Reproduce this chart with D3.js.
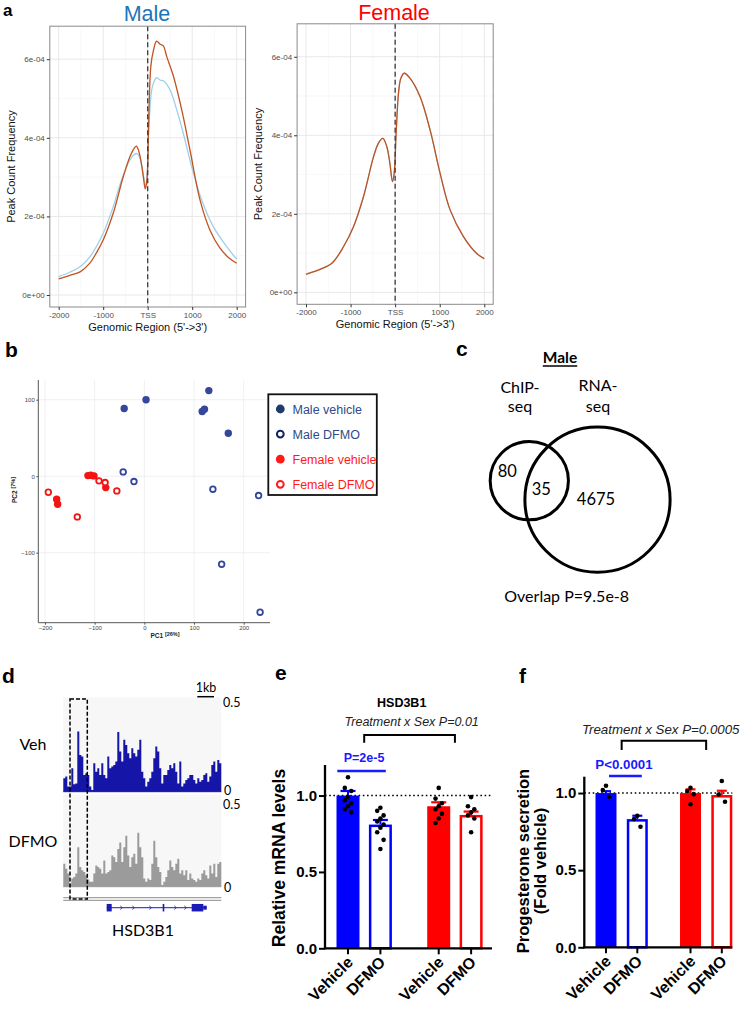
<!DOCTYPE html>
<html><head><meta charset="utf-8">
<script src="https://cdn.jsdelivr.net/npm/d3@7"></script>
<style>body{margin:0;background:#fff}svg{display:block}</style>
</head><body>
<svg id="fig" width="749" height="1013"></svg>
<script>
// ================= DATA =================
// Panel a: peak profiles around TSS, [position (bp), frequency x1e-4]
const profileTicksX = [-2000, -1000, 0, 1000, 2000];
const profileTickLabelsX = ["-2000", "-1000", "TSS", "1000", "2000"];
const profileTicksY = [0, 2, 4, 6];
const profileTickLabelsY = ["0e+00", "2e-04", "4e-04", "6e-04"];
const maleOrange = [[-2000,0.41],[-1750,0.50],[-1520,0.59],[-1300,0.81],[-1150,1.08],[-1000,1.40],[-775,2.08],[-550,3.01],[-400,3.52],[-300,3.74],[-255,3.79],[-200,3.66],[-150,3.40],[-100,3.02],[-55,2.70],[-25,2.85],[0,3.30],[20,4.30],[70,5.81],[130,6.23],[200,6.46],[280,6.38],[350,6.34],[430,6.06],[580,5.56],[765,4.71],[950,3.69],[1175,2.42],[1400,1.65],[1625,1.19],[1800,0.97],[2000,0.81]];
const maleBlue = [[-2000,0.47],[-1750,0.58],[-1520,0.72],[-1300,0.97],[-1000,1.57],[-775,2.25],[-550,3.05],[-350,3.52],[-240,3.60],[-180,3.50],[-128,3.26],[-80,2.95],[-40,2.76],[-10,3.05],[22,4.11],[90,5.22],[150,5.45],[202,5.53],[280,5.47],[352,5.45],[502,5.22],[652,4.71],[801,4.11],[989,3.26],[1213,2.42],[1475,1.74],[1775,1.23],[2000,0.91]];
const femaleOrange = [[-2000,0.46],[-1700,0.58],[-1420,0.74],[-1160,1.16],[-935,1.67],[-710,2.44],[-486,3.45],[-374,3.80],[-276,3.92],[-187,3.71],[-120,3.30],[-60,2.82],[-22,3.03],[22,4.05],[75,5.07],[127,5.45],[202,5.58],[336,5.45],[560,4.98],[785,4.13],[1009,3.03],[1233,2.10],[1532,1.42],[1830,0.99],[2000,0.86]];
const femaleBlue = [[-2000,0.47],[-1700,0.58],[-1420,0.74],[-1160,1.16],[-935,1.67],[-710,2.44],[-486,3.45],[-374,3.80],[-276,3.92],[-187,3.71],[-120,3.30],[-60,2.82],[-22,3.03],[22,4.05],[75,5.07],[127,5.45],[202,5.58],[336,5.45],[560,4.98],[785,4.13],[1009,3.03],[1233,2.10],[1532,1.42],[1830,0.99],[2000,0.86]];

// Panel b: PCA scores [PC1, PC2]
const pcaTicksX = [-200, -100, 0, 100, 200];
const pcaTicksY = [-100, 0, 100];
const maleVehiclePC = [[-40.6,88.4],[3.4,100],[129.8,111.9],[116.4,84.5],[121,87.5],[169,56.2]];
const maleDFMOPC = [[-42.6,5.6],[-20.9,-7],[138,-17],[230,-25.3],[155.6,-115],[233,-177.8]];
const femaleVehiclePC = [[-113.6,0.8],[-108,1.2],[-101.4,0.4],[-77.7,-14.9],[-176.5,-30],[-174.5,-36.6]];
const femaleDFMOPC = [[-193.3,-21],[-135,-53.2],[-91.3,-6.1],[-79,-8.3],[-55.4,-19.2]];
const pcaLegend = ["Male vehicle", "Male DFMO", "Female vehicle", "Female DFMO"];

// Panel c: Venn counts
const vennCounts = [80, 35, 4675]; // ChIP-only, overlap, RNA-only

// Panel d: coverage tracks (bins left->right), signal 0..0.5
const trackMax = 0.5;
const vehTrack = [0.071,0.080,0.027,0.027,0.124,0.039,0.044,0.319,0.195,0.186,0.089,0.098,0.089,0.027,0.009,0.151,0.106,0.124,0.089,0.151,0.089,0.071,0.186,0.124,0.133,0.142,0.160,0.316,0.213,0.160,0.275,0.248,0.204,0.177,0.230,0.204,0.186,0.222,0.275,0.106,0.071,0.027,0.053,0.071,0.106,0.177,0.239,0.213,0.124,0.044,0.089,0.089,0.115,0.142,0.124,0.151,0.106,0.044,0.160,0.027,0.044,0.062,0.071,0.089,0.089,0.062,0.044,0.071,0.053,0.062,0.089,0.098,0.053,0.080,0.142,0.160,0.106,0.168,0.151];
const dfmoTrack = [0.129,0.101,0.074,0.018,0.046,0.055,0.074,0.221,0.110,0.092,0.083,0.064,0.040,0.028,0.028,0.074,0.119,0.110,0.101,0.074,0.147,0.074,0.083,0.092,0.175,0.165,0.138,0.211,0.248,0.138,0.221,0.285,0.175,0.110,0.165,0.184,0.129,0.303,0.221,0.165,0.046,0.028,0.046,0.037,0.129,0.257,0.165,0.110,0.083,0.009,0.028,0.055,0.092,0.147,0.110,0.092,0.129,0.156,0.074,0.092,0.064,0.092,0.037,0.074,0.046,0.037,0.028,0.046,0.037,0.074,0.092,0.064,0.046,0.119,0.074,0.129,0.055,0.129,0.138];
// gene model in bin units: [start, end, type]
const geneSpan = [21.7, 71.7];
const geneExons = [[21.7,24.2,"cds"],[49.7,50.5,"cds"],[64.2,70.0,"cds"],[70.0,71.7,"utr"]];

// Panels e & f: bar data
const barSex = ["Male", "Male", "Female", "Female"];
const barTreat = ["Vehicle", "DFMO", "Vehicle", "DFMO"];
const barTicksY = [0, 0.5, 1.0];
const mrnaMean = [1.00, 0.81, 0.93, 0.873];
const mrnaSem = [0.03, 0.03, 0.026, 0.022];
const mrnaPoints = [[1.12,1.05,1.03,0.99,0.97,0.95,0.93,0.91,0.89],[0.92,0.90,0.87,0.85,0.83,0.81,0.79,0.76,0.71,0.65],[1.05,0.98,0.95,0.93,0.91,0.88,0.85,0.82],[0.99,0.93,0.91,0.89,0.87,0.85,0.76]];
const progMean = [1.00, 0.831, 1.00, 0.987];
const progSem = [0.012, 0.022, 0.024, 0.028];
const progPoints = [[1.047,1.019,0.976],[0.853,0.831,0.782],[1.034,1.013,0.993,0.927],[1.078,0.991,0.944]];

// ================= DRAWING =================
const svg = d3.select('#fig');
const SANS = "'Liberation Sans', Arial, Helvetica, sans-serif";
const CAL = "Lato, 'Open Sans', 'DejaVu Sans', sans-serif";

function txt(x, y, s, o = {}) {
  const t = svg.append('text').attr('x', x).attr('y', y).text(s)
    .attr('font-family', o.ff || SANS).attr('font-size', o.fs || 12).attr('fill', o.fill || '#000');
  if (o.fw) t.attr('font-weight', o.fw);
  if (o.anchor) t.attr('text-anchor', o.anchor);
  if (o.style) t.attr('font-style', o.style);
  if (o.rot !== undefined) t.attr('transform', `rotate(${o.rot},${x},${y})`);
  return t;
}

// panel letters
[['a',3,15.5,17],['b',5,357,21],['c',456,356,21],['d',2,683,21],['e',275,680,21],['f',519,683,21]].forEach(([l,x,y,fs]) =>
  txt(x, y, l, {fs: fs, fw: 'bold'}));

// ---------- Panel a ----------
const ORANGE = '#c2521f', LBLUE = '#9fd0e8';
function drawProfile(o) {
  const g = svg.append('g');
  const x = d3.scaleLinear().domain([-2200, 2200]).range([o.l, o.r]);
  const y = d3.scaleLinear().domain([-0.305, 6.84]).range([o.b, o.t]);
  g.append('rect').attr('x', o.l).attr('y', o.t).attr('width', o.r - o.l).attr('height', o.b - o.t).attr('fill', '#fff');
  const minorX = [-1500, -500, 500, 1500], minorY = [1, 3, 5];
  g.selectAll('.mnx').data(minorX).join('line').attr('x1', x).attr('x2', x).attr('y1', o.t).attr('y2', o.b)
    .attr('stroke', '#f3f3f3').attr('stroke-width', 0.6);
  g.selectAll('.mny').data(minorY).join('line').attr('y1', y).attr('y2', y).attr('x1', o.l).attr('x2', o.r)
    .attr('stroke', '#f3f3f3').attr('stroke-width', 0.6);
  g.selectAll('.mjx').data(profileTicksX).join('line').attr('x1', x).attr('x2', x).attr('y1', o.t).attr('y2', o.b)
    .attr('stroke', '#e8e8e8').attr('stroke-width', 1);
  g.selectAll('.mjy').data(profileTicksY).join('line').attr('y1', y).attr('y2', y).attr('x1', o.l).attr('x2', o.r)
    .attr('stroke', '#e8e8e8').attr('stroke-width', 1);
  const line = d3.line().x(d => x(d[0])).y(d => y(d[1])).curve(d3.curveCatmullRom.alpha(0.5));
  o.series.forEach(s => g.append('path').datum(s.data).attr('d', line).attr('fill', 'none')
    .attr('stroke', s.color).attr('stroke-width', 1.3));
  g.append('line').attr('x1', x(0)).attr('x2', x(0)).attr('y1', o.t).attr('y2', o.b)
    .attr('stroke', '#3a3a3a').attr('stroke-width', 1.3).attr('stroke-dasharray', '5,3');
  g.append('rect').attr('x', o.l).attr('y', o.t).attr('width', o.r - o.l).attr('height', o.b - o.t)
    .attr('fill', 'none').attr('stroke', '#8a8a8a').attr('stroke-width', 1);
  const styleAxis = s => { s.select('.domain').remove(); s.selectAll('line').attr('stroke', '#333');
    s.selectAll('text').attr('fill', '#4d4d4d').attr('font-size', 8).attr('font-family', SANS); };
  g.append('g').attr('transform', `translate(0,${o.b})`)
    .call(d3.axisBottom(x).tickValues(profileTicksX).tickFormat((d, i) => profileTickLabelsX[i]).tickSize(3).tickPadding(2))
    .call(styleAxis);
  g.append('g').attr('transform', `translate(${o.l},0)`)
    .call(d3.axisLeft(y).tickValues(profileTicksY).tickFormat((d, i) => profileTickLabelsY[i]).tickSize(3).tickPadding(2))
    .call(styleAxis);
  txt(o.ytX, (o.t + o.b) / 2, 'Peak Count Frequency', {fs: 11, anchor: 'middle', rot: -90, fill: '#111'});
  txt((o.l + o.r) / 2, o.xtY, "Genomic Region (5'->3')", {fs: 11, anchor: 'middle', fill: '#111'});
  txt(o.titleX, o.titleY, o.title, {fs: 21.5, anchor: 'middle', fill: o.titleColor});
}
drawProfile({l: 49.8, r: 245.6, t: 26.2, b: 307, ytX: 15, xtY: 330.5, title: 'Male', titleX: 147, titleY: 21, titleColor: '#1b75bb',
  series: [{data: maleBlue, color: LBLUE}, {data: maleOrange, color: ORANGE}]});
drawProfile({l: 297.1, r: 493.2, t: 23.8, b: 304.3, ytX: 262, xtY: 328, title: 'Female', titleX: 394, titleY: 20, titleColor: '#ff0000',
  series: [{data: femaleBlue, color: LBLUE}, {data: femaleOrange, color: ORANGE}]});

// ---------- Panel b ----------
(function () {
  const L = 38.3, R = 270, T = 380, B = 622.7;
  const x = d3.scaleLinear().domain([-200, 200]).range([45, 243.7]);
  const y = d3.scaleLinear().domain([-100, 100]).range([552.7, 399.7]);
  const g = svg.append('g');
  g.selectAll('.gx').data(pcaTicksX).join('line').attr('x1', x).attr('x2', x).attr('y1', T).attr('y2', B)
    .attr('stroke', '#ececec').attr('stroke-width', 0.8);
  g.selectAll('.gy').data(pcaTicksY).join('line').attr('y1', y).attr('y2', y).attr('x1', L).attr('x2', R)
    .attr('stroke', '#ececec').attr('stroke-width', 0.8);
  const styleAxis = s => { s.select('.domain').remove(); s.selectAll('line').attr('stroke', '#555');
    s.selectAll('text').attr('fill', '#444').attr('font-size', 6).attr('font-family', SANS); };
  g.append('g').attr('transform', `translate(0,${B})`).call(d3.axisBottom(x).tickValues(pcaTicksX).tickSize(2).tickPadding(1.5)).call(styleAxis);
  g.append('g').attr('transform', `translate(${L},0)`).call(d3.axisLeft(y).tickValues(pcaTicksY).tickSize(2).tickPadding(1.5)).call(styleAxis);
  g.append('line').attr('x1', L).attr('x2', L).attr('y1', T).attr('y2', B).attr('stroke', '#555').attr('stroke-width', 1);
  g.append('line').attr('x1', L).attr('x2', R).attr('y1', B).attr('y2', B).attr('stroke', '#555').attr('stroke-width', 1);
  const MB = '#34479a', RD = '#f41414';
  const groups = [
    {d: maleVehiclePC, c: MB, fill: true}, {d: maleDFMOPC, c: MB, fill: false},
    {d: femaleVehiclePC, c: RD, fill: true}, {d: femaleDFMOPC, c: RD, fill: false}];
  groups.forEach(gr => g.selectAll(null).data(gr.d).join('circle')
    .attr('cx', d => x(d[0])).attr('cy', d => y(d[1]))
    .attr('r', gr.fill ? 3.7 : 2.8)
    .attr('fill', gr.fill ? gr.c : '#fff').attr('stroke', gr.c).attr('stroke-width', gr.fill ? 0 : 1.8));
  const t1 = txt(165, 638, '', {fs: 6.5, fw: 'bold', anchor: 'middle', fill: '#222'});
  t1.append('tspan').text('PC1 ');
  t1.append('tspan').attr('dy', -2).attr('font-size', 5.5).text('[26%]');
  const t2 = txt(17, 490, '', {fs: 6.5, fw: 'bold', anchor: 'middle', rot: -90, fill: '#222'});
  t2.append('tspan').text('PC2 ');
  t2.append('tspan').attr('dy', -2).attr('font-size', 5.5).text('[7%]');
  // legend
  g.append('rect').attr('x', 268.3).attr('y', 394.3).attr('width', 108.5).attr('height', 100.7)
    .attr('fill', '#fff').attr('stroke', '#111').attr('stroke-width', 1.8);
  const legCols = [{c: '#1f3a6e', t: '#2d4a8c', fill: true}, {c: '#0d2466', t: '#2d4a8c', fill: false},
    {c: '#ff1a1a', t: '#ff1a1a', fill: true}, {c: '#ff1a1a', t: '#ff1a1a', fill: false}];
  const ly = d3.scalePoint().domain(pcaLegend).range([409, 484.3]);
  pcaLegend.forEach((lab, i) => {
    const lc = legCols[i];
    g.append('circle').attr('cx', 280.3).attr('cy', ly(lab)).attr('r', lc.fill ? 4.4 : 3.4)
      .attr('fill', lc.fill ? lc.c : '#fff').attr('stroke', lc.c).attr('stroke-width', lc.fill ? 0 : 2);
    txt(292.5, ly(lab) + 4.5, lab, {fs: 12.5, fill: lc.t});
  });
})();

// ---------- Panel c ----------
(function () {
  const g = svg.append('g');
  const r = d3.scaleLog().domain([1.5, 4710]).range([0, 72.6]);
  const chipTotal = vennCounts[0] + vennCounts[1];
  const rnaTotal = vennCounts[1] + vennCounts[2];
  const sc = {x: 529.3, y: 480.7}, bc = {x: 597.5, y: 499.7};
  g.append('circle').attr('cx', bc.x).attr('cy', bc.y).attr('r', r(rnaTotal)).attr('fill', 'none').attr('stroke', '#000').attr('stroke-width', 3);
  g.append('circle').attr('cx', sc.x).attr('cy', sc.y).attr('r', r(chipTotal)).attr('fill', 'none').attr('stroke', '#000').attr('stroke-width', 3);
  txt(sc.x - 22, sc.y - 4, String(vennCounts[0]), {ff: CAL, fs: 16.5, anchor: 'middle'});
  txt(sc.x + 12, sc.y + 14, String(vennCounts[1]), {ff: CAL, fs: 16.5, anchor: 'middle'});
  txt(bc.x - 1.5, bc.y + 5, String(vennCounts[2]), {ff: CAL, fs: 16.5, anchor: 'middle'});
  const m = txt(560, 363, 'Male', {ff: CAL, fs: 15.5, fw: 'bold', anchor: 'middle'});
  const w = m.node().getComputedTextLength();
  g.append('line').attr('x1', 560 - w / 2).attr('x2', 560 + w / 2).attr('y1', 366).attr('y2', 366).attr('stroke', '#000').attr('stroke-width', 1.3);
  txt(520, 392.5, 'ChIP-', {ff: CAL, fs: 16, anchor: 'middle'});
  txt(520, 412, 'seq', {ff: CAL, fs: 16, anchor: 'middle'});
  txt(598, 390.5, 'RNA-', {ff: CAL, fs: 16, anchor: 'middle'});
  txt(598, 412, 'seq', {ff: CAL, fs: 16, anchor: 'middle'});
  txt(566.7, 601.5, 'Overlap P=9.5e-8', {ff: CAL, fs: 16, anchor: 'middle'});
})();

// ---------- Panel d ----------
(function () {
  const g = svg.append('g');
  const x = d3.scaleLinear().domain([0, vehTrack.length]).range([63.3, 221.3]);
  const tracks = [
    {d: vehTrack, top: 697.3, base: 791.7, bgTop: 697.3, c: '#1515a8', lab: 'Veh', labY: 750, zeroY: 794.5, maxY: 707},
    {d: dfmoTrack, top: 797.5, base: 886.7, bgTop: 794.5, c: '#9b9b9b', lab: 'DFMO', labY: 847, zeroY: 891.5, maxY: 808.5}];
  tracks.forEach(t => {
    const y = d3.scaleLinear().domain([0, trackMax]).range([t.base, t.top]);
    g.append('rect').attr('x', x(0)).attr('y', t.bgTop).attr('width', x(t.d.length) - x(0)).attr('height', t.base - t.bgTop).attr('fill', '#f7f7f8');
    const pts = t.d.map((v, i) => [i, v]).concat([[t.d.length, t.d[t.d.length - 1]]]);
    g.append('path').datum(pts).attr('d', d3.area().x(d => x(d[0])).y0(t.base).y1(d => y(d[1])).curve(d3.curveStepAfter)).attr('fill', t.c);
    g.append('line').attr('x1', x(0)).attr('x2', x(t.d.length)).attr('y1', t.base).attr('y2', t.base).attr('stroke', t.c).attr('stroke-width', 1);
    txt(223, t.maxY, String(trackMax), {ff: CAL, fs: 12.5});
    txt(224, t.zeroY, '0', {ff: CAL, fs: 12.5});
    txt(33, t.labY, t.lab, {ff: CAL, fs: 16, anchor: 'middle'});
  });
  // gene track lines
  [897.7, 900.3].forEach(yy => g.append('line').attr('x1', x(0)).attr('x2', x(vehTrack.length)).attr('y1', yy).attr('y2', yy).attr('stroke', '#8c8c8c').attr('stroke-width', 1));
  const gy = 907.7, GB = '#1a1ab4';
  g.append('line').attr('x1', x(geneSpan[0])).attr('x2', x(geneSpan[1])).attr('y1', gy).attr('y2', gy).attr('stroke', GB).attr('stroke-width', 1);
  geneExons.forEach(e => {
    const h = e[2] === 'cds' ? 7.5 : 4;
    g.append('rect').attr('x', x(e[0])).attr('y', gy - h / 2).attr('width', x(e[1]) - x(e[0])).attr('height', h).attr('fill', GB);
  });
  [29, 35, 43.5, 56, 61].forEach(p => g.append('path')
    .attr('d', `M${x(p) - 1},${gy - 1.8}L${x(p) + 1},${gy}L${x(p) - 1},${gy + 1.8}`).attr('fill', 'none').attr('stroke', GB).attr('stroke-width', 0.8));
  txt(143, 936, 'HSD3B1', {ff: CAL, fs: 16, anchor: 'middle'});
  // scale bar
  g.append('line').attr('x1', 197.3).attr('x2', 214).attr('y1', 696.7).attr('y2', 696.7).attr('stroke', '#000').attr('stroke-width', 1.5);
  txt(206, 692, '1kb', {ff: CAL, fs: 12.5, anchor: 'middle'});
  // dashed highlight box
  g.append('rect').attr('x', 70).attr('y', 699).attr('width', 17.3).attr('height', 200).attr('fill', 'none')
    .attr('stroke', '#000').attr('stroke-width', 1.5).attr('stroke-dasharray', '4,2');
})();

// ---------- Panels e & f ----------
function drawBars(o) {
  const g = svg.append('g');
  const y = d3.scaleLinear().domain([0, o.ymax]).range([o.y0, o.yTop]);
  const x = d3.scaleLinear().domain([0, 1]).range([o.c0, o.c0 + o.unit]);
  const slot = i => (barSex[i] === 'Male' ? 0 : o.gap) + (barTreat[i] === 'Vehicle' ? 0 : 1);
  const cx = i => x(slot(i));
  const col = i => barSex[i] === 'Male' ? '#0000ff' : '#ff0000';
  g.append('line').attr('x1', o.ax).attr('x2', o.xEnd).attr('y1', y(1)).attr('y2', y(1))
    .attr('stroke', '#000').attr('stroke-width', 1.6).attr('stroke-dasharray', '1.6,2.6');
  o.mean.forEach((m, i) => {
    const filled = barTreat[i] === 'Vehicle';
    if (filled) g.append('rect').attr('x', cx(i) - o.bw / 2).attr('y', y(m)).attr('width', o.bw).attr('height', y(0) - y(m)).attr('fill', col(i));
    else g.append('rect').attr('x', cx(i) - o.bw / 2 + 1.25).attr('y', y(m) + 1.25).attr('width', o.bw - 2.5).attr('height', y(0) - y(m) - 1.25)
      .attr('fill', '#fff').attr('stroke', col(i)).attr('stroke-width', 2.5);
    const top = y(m + o.sem[i]);
    g.append('line').attr('x1', cx(i)).attr('x2', cx(i)).attr('y1', y(m)).attr('y2', top).attr('stroke', col(i)).attr('stroke-width', 2);
    g.append('line').attr('x1', cx(i) - o.cap / 2).attr('x2', cx(i) + o.cap / 2).attr('y1', top).attr('y2', top).attr('stroke', col(i)).attr('stroke-width', 2.2);
  });
  o.points.forEach((arr, i) => arr.forEach((v, j) => {
    const off = [0, -3.2, 3.2][j % 3];
    g.append('circle').attr('cx', cx(i) + off).attr('cy', y(v)).attr('r', 2.3).attr('fill', '#000');
  }));
  const ya = g.append('g').attr('transform', `translate(${o.ax},0)`)
    .call(d3.axisLeft(y).tickValues(barTicksY).tickFormat(d3.format('.1f')).tickSize(6).tickSizeOuter(0).tickPadding(2));
  ya.select('.domain').remove();
  ya.selectAll('line').attr('stroke', '#000').attr('stroke-width', 2);
  ya.selectAll('text').attr('font-family', SANS).attr('font-size', 15).attr('font-weight', 'bold').attr('fill', '#000');
  g.append('line').attr('x1', o.ax).attr('x2', o.ax).attr('y1', o.yTop).attr('y2', o.y0 + 1).attr('stroke', '#000').attr('stroke-width', 2.3);
  g.append('line').attr('x1', o.ax - 1).attr('x2', o.xEnd).attr('y1', o.y0).attr('y2', o.y0).attr('stroke', '#000').attr('stroke-width', 2.3);
  o.mean.forEach((m, i) => {
    g.append('line').attr('x1', cx(i)).attr('x2', cx(i)).attr('y1', o.y0).attr('y2', o.y0 + 6).attr('stroke', '#000').attr('stroke-width', 2);
    txt(cx(i) + 6, o.y0 + 15, barTreat[i], {fs: 16, fw: 'bold', anchor: 'end', rot: -45});
  });
  const gc0 = (cx(0) + cx(1)) / 2, gc1 = (cx(2) + cx(3)) / 2;
  g.append('path').attr('d', `M${gc0},${o.brY + o.brLeg}V${o.brY}H${gc1}V${o.brY + o.brLeg}`)
    .attr('fill', 'none').attr('stroke', '#000').attr('stroke-width', 2);
  txt(o.intX, o.intY, o.intText, {fs: o.intFs, style: 'italic', anchor: 'middle', fill: '#222'});
  g.append('line').attr('x1', cx(0) + o.pl0).attr('x2', cx(1) + o.pl1).attr('y1', o.pY).attr('y2', o.pY).attr('stroke', '#1a1aff').attr('stroke-width', 2.6);
  txt(o.pTx, o.pTy, o.pText, {fs: o.pFs, fw: 'bold', anchor: 'middle', fill: '#1a1aff'});
  o.ytitle.forEach((t, k) => txt(o.ytX[k], o.ytY, t, {fs: o.ytFs, fw: 'bold', anchor: 'middle', rot: -90}));
  if (o.title) txt(o.title.x, o.title.y, o.title.t, {fs: 12.5, fw: 'bold', anchor: 'middle'});
}
drawBars({ymax: 1.2, y0: 948.3, yTop: 765, ax: 325, xEnd: 492, c0: 348, unit: 32.4, gap: 2.8, bw: 23, cap: 15,
  mean: mrnaMean, sem: mrnaSem, points: mrnaPoints,
  brY: 735, brLeg: 7.7, intX: 411.7, intY: 726, intText: 'Treatment x Sex P=0.01', intFs: 12.5,
  pY: 771, pl0: -10.7, pl1: 5.4, pTx: 364, pTy: 762, pText: 'P=2e-5', pFs: 12.5,
  ytitle: ['Relative mRNA levels'], ytX: [285], ytY: 858, ytFs: 17.5,
  title: {x: 401.7, y: 707, t: 'HSD3B1'}});
drawBars({ymax: 1.106, y0: 947.3, yTop: 776.7, ax: 584.3, xEnd: 732.3, c0: 606, unit: 31.3, gap: 2.7, bw: 21, cap: 10,
  mean: progMean, sem: progSem, points: progPoints,
  brY: 740.7, brLeg: 9.3, intX: 660.7, intY: 734, intText: 'Treatment x Sex P=0.0005', intFs: 13.3,
  pY: 776, pl0: 3, pl1: 4.5, pTx: 624, pTy: 769, pText: 'P<0.0001', pFs: 13.3,
  ytitle: ['Progesterone secretion', '(Fold vehicle)'], ytX: [528.5, 546], ytY: 861, ytFs: 16.5});
</script>
</body></html>
